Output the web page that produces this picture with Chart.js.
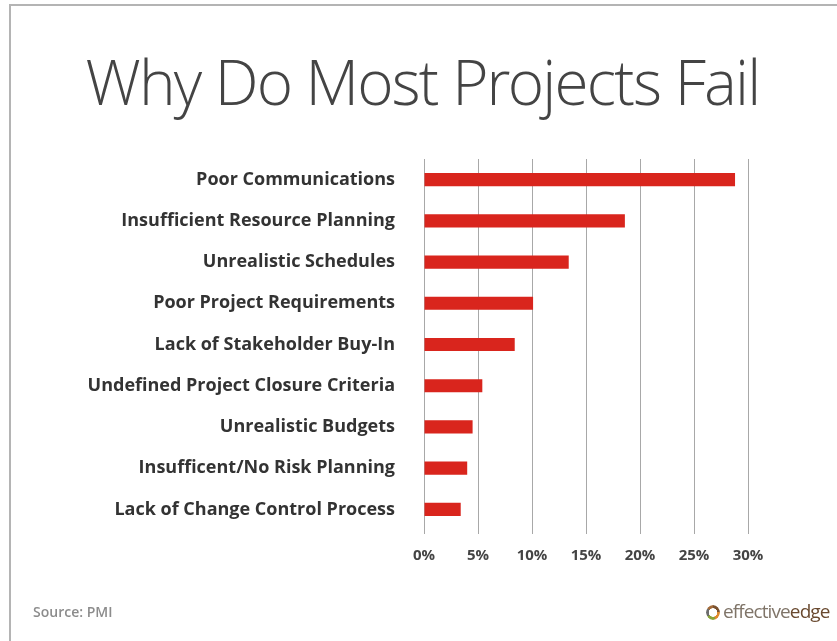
<!DOCTYPE html>
<html>
<head>
<meta charset="utf-8">
<script src="https://cdn.jsdelivr.net/npm/chart.js@4"></script>
<style>
  html, body { margin: 0; padding: 0; background: #fff; }
  #wrap { position: relative; width: 837px; height: 641px; overflow: hidden; }
  #frame { position: absolute; left: 9px; top: 4px; width: 900px; height: 700px;
           border-top: 2px solid #b4b4b4; border-left: 2px solid #b4b4b4; }
  #title { position: absolute; left: 0; width: 845px; top: 39px; text-align: center; line-height: 80px;
           font: 300 62px "Open Sans Light", "Open Sans", sans-serif; letter-spacing: -1.8px; color: #444; white-space: nowrap; }
  #src { position: absolute; left: 33px; top: 602px; font: 600 14px "Open Sans", sans-serif; color: #8c8c8c; }
  #logo { position: absolute; left: 706px; top: 598px; font: 400 19px "Open Sans", sans-serif; letter-spacing: -0.9px; }
  #logo .ring { display: inline-block; width: 14px; height: 15px; border-radius: 50%; vertical-align: -2px; margin-right: 3px;
                background: conic-gradient(#7a5230 0 25%, #e08a2c 25% 45%, #8aa33a 45% 65%, #6d6d6d 65% 85%, #a36b3a 85% 100%);
                -webkit-mask: radial-gradient(circle, transparent 4px, #000 4.5px); }
  #logo .a { color: #7f7468; }
  #logo .b { color: #6a4a30; }
  canvas { position: absolute; left: 0; top: 0; }
</style>
</head>
<body>
<div id="wrap">
  <div id="frame"></div>
  <div id="title">Why Do Most Projects Fail</div>
  <canvas id="myBarChart" width="837" height="641"></canvas>
  <div id="src">Source: PMI</div>
  <div id="logo"><span class="ring"></span><span class="a">effective</span><span class="b">edge</span></div>
</div>
<script>
// data
const reasons = ['Poor Communications', 'Insufficient Resource Planning', 'Unrealistic Schedules',
  'Poor Project Requirements', 'Lack of Stakeholder Buy-In', 'Undefined Project Closure Criteria',
  'Unrealistic Budgets', 'Insufficent/No Risk Planning', 'Lack of Change Control Process'];
const shares = [28.8, 18.6, 13.4, 10.1, 8.4, 5.4, 4.5, 4.0, 3.4];
const xTicks = [0, 5, 10, 15, 20, 25, 30];

var failChart = document.getElementById("myBarChart");
const bars = new Chart(failChart, {
    type: 'bar',
    data: {
        labels: reasons,
        datasets: [{
          data: shares,
          backgroundColor: '#d9251d',
          categoryPercentage: 0.64,
          barPercentage: 0.5
        }]
    },
    options: {
        indexAxis: 'y',
        responsive: false,
        animation: false,
        layout: { padding: { left: 10, right: 89, top: 159, bottom: 70 } },
        plugins: {
            legend: { display: false },
            tooltip: { enabled: false }
        },
        scales: {
            x: {
                min: 0, max: 30,
                afterBuildTicks: s => { s.ticks = xTicks.map(v => ({ value: v })); },
                grid: { color: '#a8a8a8', tickLength: 4 },
                border: { display: false },
                ticks: {
                    color: '#444',
                    padding: 13,
                    font: { family: 'Open Sans', size: 15, weight: 'bold' },
                    callback: v => v + '%'
                },
                afterFit: s => { s.height = 41; }
            },
            y: {
                grid: { display: false, drawTicks: false },
                border: { display: false },
                ticks: {
                    color: '#333',
                    padding: 29,
                    font: { family: 'Open Sans', size: 18, weight: 'bold' }
                },
                afterFit: s => { s.width = 414; }
            }
        }
    }
});
</script>
</body>
</html>
